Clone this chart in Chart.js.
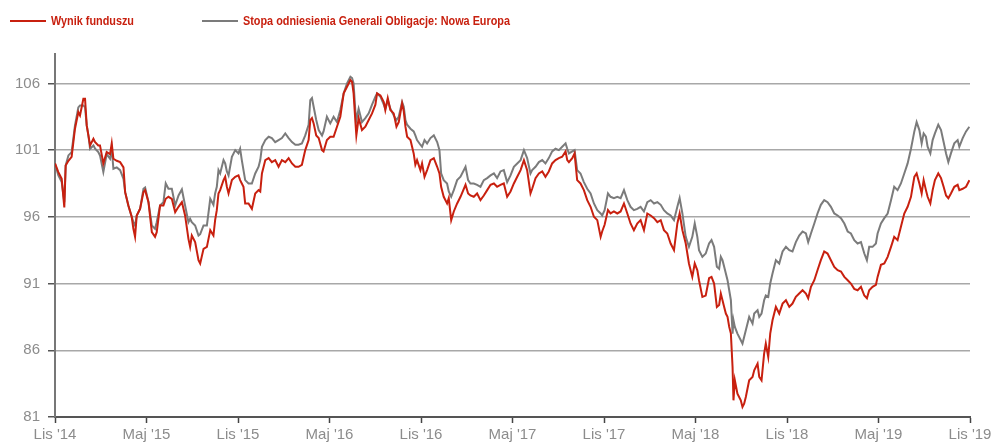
<!DOCTYPE html>
<html>
<head>
<meta charset="utf-8">
<script src="https://cdn.jsdelivr.net/npm/chart.js@4.4.1/dist/chart.umd.min.js"></script>
<style>
  html, body { margin: 0; padding: 0; background: #fff; }
  #wrap { width: 1001px; height: 443px; position: relative; }
</style>
</head>
<body>
<div id="wrap"><canvas id="perfChart" width="1001" height="443"></canvas></div>
<script>
// miesiące od listopada 2014 (0 = Lis '14, 60 = Lis '19)
const months = [
  0.00, 0.22, 0.44, 0.61, 0.70, 0.88, 1.09, 1.31, 1.53, 1.64, 1.86, 1.97, 2.08, 2.19, 2.30, 2.52, 2.63, 2.84, 2.95, 3.17,
  3.39, 3.61, 3.72, 3.83, 4.05, 4.27, 4.49, 4.60, 4.81, 5.03, 5.14, 5.25, 5.36, 5.58, 5.80, 5.91, 6.13, 6.35, 6.56, 6.67,
  6.89, 7.11, 7.26, 7.44, 7.66, 7.88, 8.10, 8.32, 8.53, 8.75, 8.86, 8.97, 9.19, 9.41, 9.52, 9.74, 9.96, 10.18, 10.39, 10.50,
  10.61, 10.72, 10.83, 11.05, 11.16, 11.27, 11.38, 11.60, 11.82, 12.03, 12.14, 12.25, 12.36, 12.47, 12.69, 12.91, 13.13, 13.35, 13.46, 13.57,
  13.79, 14.01, 14.22, 14.44, 14.66, 14.88, 15.10, 15.32, 15.54, 15.76, 15.97, 16.19, 16.41, 16.63, 16.74, 16.85, 16.96, 17.13, 17.29, 17.51,
  17.61, 17.83, 18.05, 18.27, 18.49, 18.71, 18.93, 19.15, 19.37, 19.48, 19.58, 19.69, 19.76, 19.91, 20.13, 20.35, 20.57, 20.79, 21.01, 21.12,
  21.34, 21.56, 21.66, 21.82, 21.99, 22.21, 22.39, 22.54, 22.76, 22.87, 22.98, 23.09, 23.31, 23.52, 23.63, 23.74, 23.96, 24.07, 24.23, 24.40,
  24.62, 24.84, 25.06, 25.21, 25.32, 25.49, 25.71, 25.82, 25.98, 26.15, 26.37, 26.59, 26.92, 27.09, 27.24, 27.46, 27.68, 27.90, 28.12, 28.34,
  28.56, 28.78, 28.99, 29.21, 29.43, 29.65, 29.87, 30.09, 30.31, 30.53, 30.75, 30.96, 31.18, 31.29, 31.51, 31.73, 31.95, 32.16, 32.38, 32.60,
  32.82, 33.04, 33.26, 33.48, 33.59, 33.70, 33.92, 34.07, 34.24, 34.46, 34.68, 34.90, 35.12, 35.34, 35.56, 35.78, 35.88, 36.04, 36.26, 36.43,
  36.65, 36.87, 37.09, 37.31, 37.53, 37.74, 37.96, 38.18, 38.40, 38.62, 38.84, 39.06, 39.28, 39.50, 39.72, 39.93, 40.15, 40.37, 40.59, 40.81,
  40.96, 41.14, 41.36, 41.57, 41.79, 41.95, 42.12, 42.23, 42.45, 42.67, 42.89, 43.05, 43.22, 43.40, 43.55, 43.66, 43.77, 43.88, 43.99, 44.10,
  44.21, 44.32, 44.43, 44.49, 44.58, 44.75, 44.97, 45.08, 45.19, 45.30, 45.52, 45.74, 45.85, 46.07, 46.18, 46.33, 46.50, 46.61, 46.77, 46.90,
  47.05, 47.27, 47.49, 47.71, 47.93, 48.15, 48.36, 48.58, 48.80, 49.02, 49.24, 49.39, 49.57, 49.79, 50.00, 50.22, 50.44, 50.66, 50.88, 51.10,
  51.32, 51.54, 51.76, 51.98, 52.19, 52.41, 52.63, 52.85, 53.07, 53.24, 53.39, 53.61, 53.83, 53.94, 54.16, 54.38, 54.60, 54.82, 55.03, 55.25,
  55.47, 55.69, 55.91, 56.13, 56.24, 56.35, 56.50, 56.68, 56.83, 56.96, 57.11, 57.22, 57.40, 57.55, 57.70, 57.92, 58.10, 58.27, 58.43, 58.58,
  58.75, 58.97, 59.19, 59.30, 59.52, 59.74, 59.96
];

// Wynik funduszu
const fund = [
  100, 99.35, 98.85, 96.7, 99.85, 100.2, 100.5, 102.6, 103.85, 103.6, 104.85, 104.85, 102.85, 102.1, 101.35, 101.85, 101.6, 101.35, 101.35, 100,
  100.85, 100.7, 101.5, 100.35, 100.2, 100.1, 99.7, 97.85, 96.85, 96.0, 95.1, 94.5, 96.1, 96.6, 97.85, 98.0, 97.1, 94.85, 94.5, 94.85,
  96.85, 96.85, 97.35, 97.5, 97.35, 96.35, 96.75, 97.1, 96.1, 94.35, 93.75, 94.6, 94.1, 92.75, 92.5, 93.6, 93.75, 95.0, 94.6, 95.75,
  96.5, 97.75, 98, 98.75, 99, 98.25, 97.75, 98.75, 99, 99.1, 98.75, 98.5, 98.25, 97, 97, 96.6, 97.75, 98, 97.9, 99.25,
  100.25, 100.4, 100.1, 100.25, 99.75, 100.25, 100.1, 100.4, 100, 99.75, 99.75, 99.9, 101, 101.75, 103.25, 103.4, 103, 102.1, 101.9, 101,
  100.9, 101.75, 102, 102, 102.75, 103.5, 105.25, 105.75, 106.25, 106.1, 105.25, 103.25, 102.1, 103.4, 102.5, 102.75, 103.25, 103.75, 104.4, 105.25,
  105.1, 104.6, 104, 104.9, 104, 103.75, 102.75, 103.1, 104.5, 103.9, 102.75, 102, 101.75, 100.75, 99.9, 100.25, 99.5, 100, 99, 99.5,
  100.25, 100.4, 99.75, 99.25, 98.25, 97.5, 97, 97.4, 95.75, 96.4, 97, 97.5, 98.4, 97.75, 97.6, 97.5, 97.75, 97.25, 97.6, 98,
  98.4, 98.5, 98.25, 98.4, 98.5, 97.5, 97.9, 98.5, 99, 99.5, 100.25, 99.5, 97.75, 98.1, 98.9, 99.25, 99.4, 99, 99.4, 100,
  100.25, 100.4, 100.5, 100.9, 100.25, 100.1, 100.4, 100.75, 98.75, 98.5, 98, 97.25, 96.75, 96, 95.75, 94.5, 94.9, 95.4, 96.5, 96.25,
  96.4, 96.25, 96.4, 97, 96.25, 95.5, 95, 95.5, 95.75, 95, 96.25, 96.1, 95.9, 95.6, 95.75, 95, 94.75, 94, 93.5, 95.5,
  96.25, 95, 94, 92.5, 91.5, 92.5, 92, 91.25, 90, 90.1, 91.4, 91.5, 91, 89.25, 89.4, 90.25, 89.75, 89.25, 88.75, 88.5,
  87.75, 87.25, 84.75, 82.25, 83.75, 82.75, 82.25, 81.75, 82, 82.5, 83.75, 84, 84.5, 85, 84, 83.75, 85.75, 86.5, 85.5, 87.25,
  88.25, 89.25, 88.75, 89.5, 89.75, 89.25, 89.5, 90, 90.25, 90.5, 90.25, 89.9, 90.75, 91.25, 92, 92.75, 93.4, 93.25, 92.75, 92.25,
  92, 91.9, 91.5, 91.25, 91, 90.6, 90.5, 90.75, 90.1, 89.9, 90.5, 90.75, 90.9, 91.5, 92.4, 92.5, 93, 93.75, 94.5, 94.25,
  95.25, 96.25, 96.75, 97.5, 98.25, 99, 99.25, 98.5, 97.75, 98.75, 98, 97.5, 97, 98, 98.75, 99.25, 98.9, 98.25, 97.6, 97.4,
  97.75, 98.25, 98.4, 98, 98.1, 98.25, 98.75
];

// Stopa odniesienia
const benchmark = [
  100, 99.1, 98.6, 97.1, 99.85, 100.6, 100.85, 102.85, 104.2, 104.35, 104.35, 104.2, 102.85, 102.1, 101.1, 101.35, 101.1, 100.85, 100.6, 99.35,
  100.7, 100.35, 101.1, 99.6, 99.7, 99.5, 98.85, 97.85, 96.85, 96.0, 95.6, 95.35, 96.1, 96.6, 98.1, 98.2, 97.1, 95.35, 95.1, 95.6,
  96.85, 97.1, 98.5, 98.1, 98.1, 96.85, 97.6, 98.05, 96.85, 95.6, 95.85, 95.6, 95.35, 94.6, 94.7, 95.35, 95.35, 97.35, 96.9, 97.75,
  98.25, 99.5, 99.25, 100.25, 100, 99.4, 99.1, 100.5, 101, 100.75, 101.1, 100.25, 99.5, 98.75, 98.5, 98.5, 99.25, 99.75, 100.25, 101.25,
  101.75, 102, 101.9, 101.6, 101.75, 101.9, 102.25, 101.9, 101.6, 101.4, 101.4, 101.5, 102.1, 102.9, 104.75, 104.9, 104.25, 103.25, 102.5, 102.1,
  102.4, 103.5, 103, 103.5, 103.1, 104, 105.25, 106, 106.5, 106.4, 106, 104, 103.25, 104.1, 103.1, 103.4, 103.75, 104.4, 105, 105.25,
  105, 104.4, 104.1, 104.75, 104.1, 103.6, 103.25, 103.5, 104.6, 104.25, 103.25, 102.9, 102.6, 102.4, 102.1, 101.75, 101.4, 101.25, 101.75, 101.5,
  101.9, 102.1, 101.6, 101, 99.25, 98.75, 98.5, 97.9, 97.5, 98, 98.75, 99, 99.75, 98.75, 98.5, 98.5, 98.4, 98.25, 98.75, 98.9,
  99.1, 99.25, 98.9, 99.4, 99.5, 98.6, 99.1, 99.75, 100, 100.25, 101, 100.4, 99.25, 99.5, 99.75, 100.1, 100.25, 100, 100.4, 100.9,
  101.1, 101, 101.25, 101.5, 101.1, 100.75, 100.9, 101, 99.5, 99.25, 98.6, 98.1, 97.75, 97, 96.5, 96.25, 96.1, 96.5, 97.75, 97.5,
  97.4, 97.5, 97.4, 98, 97.25, 96.75, 96.5, 96.6, 96.75, 96.4, 97.1, 97.25, 97, 97.1, 96.9, 96.5, 96.25, 96.1, 95.75, 96.75,
  97.4, 96.25, 94.5, 93.75, 94.5, 95.5, 94.5, 93.5, 93, 93.25, 94, 94.25, 93.75, 92.25, 92.1, 93, 92.75, 92.25, 91.75, 91.25,
  90.5, 89.75, 87.25, 88.25, 87.75, 87.25, 86.75, 86.5, 87, 87.5, 88.5, 88, 88.75, 89, 88.5, 88.75, 89.75, 90.1, 90, 91,
  91.75, 92.75, 92.5, 93.4, 93.75, 93.5, 93.4, 94.1, 94.6, 94.9, 94.75, 94.1, 94.75, 95.5, 96.25, 96.9, 97.25, 97.1, 96.75, 96.25,
  96.1, 95.9, 95.5, 94.9, 94.75, 94.25, 94, 94.1, 93.25, 92.75, 93.75, 93.75, 94, 94.75, 95.5, 95.9, 96.25, 97.25, 98.25, 98,
  98.5, 99.25, 100, 101.1, 101.75, 102.4, 103.1, 102.5, 101.5, 102.25, 102, 101.25, 100.75, 101.75, 102.25, 102.9, 102.5, 101.6, 100.75, 100.1,
  100.75, 101.5, 101.75, 101.25, 101.9, 102.4, 102.75
];

const xTickValues = [0, 6, 12, 18, 24, 30, 36, 42, 48, 54, 60];
const xTickLabels = ["Lis '14", "Maj '15", "Lis '15", "Maj '16", "Lis '16", "Maj '17", "Lis '17", "Maj '18", "Lis '18", "Maj '19", "Lis '19"];
const yTickValues = [81, 86, 91, 96, 101, 106];

const RED = '#c8200f';
const GREY = '#7b7b7b';
const labelFont = "'Liberation Sans', Arial, sans-serif";
const legendFont = "bold 13px 'Liberation Sans', Arial, sans-serif";

function toPoints(values) {
    return values.map((v, i) => ({ x: months[i], y: v }));
}

// legenda rysowana ręcznie (linia + wąski pogrubiony tekst), jak w oryginale
const legendPlugin = {
    id: 'topLegend',
    afterDraw(chart) {
        const ctx = chart.ctx;
        const starts = [10, 202];
        const textWidths = [83, 267]; // tekst w oryginale jest zwężony
        ctx.save();
        ctx.font = legendFont;
        ctx.textBaseline = 'middle';
        chart.data.datasets.forEach((ds, i) => {
            const x = starts[i];
            ctx.strokeStyle = ds.borderColor;
            ctx.lineWidth = 2;
            ctx.beginPath();
            ctx.moveTo(x, 21);
            ctx.lineTo(x + 36, 21);
            ctx.stroke();

            const w = ctx.measureText(ds.label).width;
            const sx = textWidths[i] / w;
            ctx.save();
            ctx.translate(x + 41, 21);
            ctx.scale(sx, 1);
            ctx.fillStyle = RED;
            ctx.fillText(ds.label, 0, 0);
            ctx.restore();
        });
        ctx.restore();
    }
};

const config = {
    type: 'line',
    data: {
        datasets: [
            {
                label: 'Wynik funduszu',
                data: toPoints(fund),
                borderColor: RED,
                borderWidth: 2,
                pointRadius: 0,
                tension: 0
            },
            {
                label: 'Stopa odniesienia Generali Obligacje: Nowa Europa',
                data: toPoints(benchmark),
                borderColor: GREY,
                borderWidth: 2,
                pointRadius: 0,
                tension: 0
            }
        ]
    },
    options: {
        responsive: false,
        animation: false,
        layout: { padding: { top: 54, right: 31, left: 0, bottom: 0 } },
        plugins: {
            legend: { display: false },
            tooltip: { enabled: false }
        },
        scales: {
            x: {
                type: 'linear',
                min: 0,
                max: 60,
                afterBuildTicks: axis => { axis.ticks = xTickValues.map(v => ({ value: v })); },
                afterFit: axis => { axis.height = 26; },
                ticks: {
                    autoSkip: false,
                    maxRotation: 0,
                    padding: 3,
                    color: '#8c8c8c',
                    font: { family: labelFont, size: 15 },
                    callback: (v) => xTickLabels[xTickValues.indexOf(v)]
                },
                grid: {
                    drawOnChartArea: false,
                    drawTicks: true,
                    tickLength: 6,
                    tickColor: '#444',
                    tickWidth: 1.5
                },
                border: { color: '#555', width: 2 }
            },
            y: {
                min: 81,
                max: 108.2,
                afterBuildTicks: axis => { axis.ticks = yTickValues.map(v => ({ value: v })); },
                afterFit: axis => { axis.width = 55; },
                ticks: {
                    padding: 8,
                    color: '#8c8c8c',
                    font: { family: labelFont, size: 15 }
                },
                grid: {
                    color: '#a8a8a8',
                    lineWidth: 1.5,
                    tickLength: 7,
                    tickColor: '#555',
                    tickWidth: 1.5
                },
                border: { color: '#777', width: 2 }
            }
        }
    },
    plugins: [legendPlugin]
};

const chart = new Chart(document.getElementById('perfChart'), config);
</script>
</body>
</html>
